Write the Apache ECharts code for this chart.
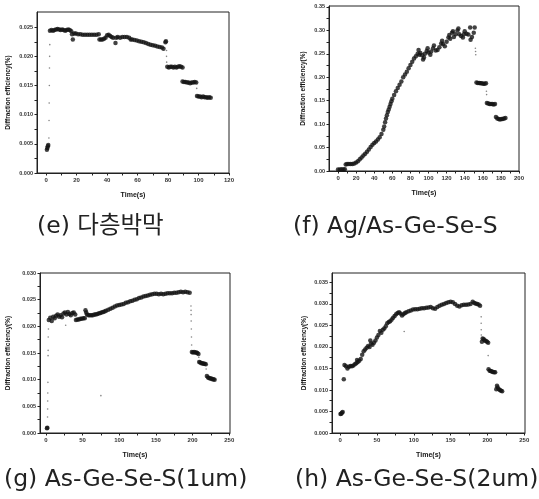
<!DOCTYPE html>
<html><head><meta charset="utf-8">
<script src="https://cdn.jsdelivr.net/npm/echarts@6/dist/echarts.min.js"></script>
<style>html,body{margin:0;padding:0;background:#fff}#c{width:539px;height:499px}</style>
</head><body><div id="c"></div>
<script>
// ---------- captions ----------
const captions = ['(e) 다층박막', '(f) Ag/As-Ge-Se-S', '(g) As-Ge-Se-S(1um)', '(h) As-Ge-Se-S(2um)'];
const xAxisName = 'Time(s)';
const yAxisName = 'Diffraction efficiency(%)';

// ---------- tick labels ----------
const eXTicks = [0, 20, 40, 60, 80, 100, 120];
const eYTicks = [0, 0.005, 0.010, 0.015, 0.020, 0.025];
const fXTicks = [0, 20, 40, 60, 80, 100, 120, 140, 160, 180, 200];
const fYTicks = [0, 0.05, 0.10, 0.15, 0.20, 0.25, 0.30, 0.35];
const gXTicks = [0, 50, 100, 150, 200, 250];
const gYTicks = [0, 0.005, 0.010, 0.015, 0.020, 0.025, 0.030];
const hXTicks = [0, 50, 100, 150, 200, 250];
const hYTicks = [0, 0.005, 0.010, 0.015, 0.020, 0.025, 0.030, 0.035];

// ---------- (e) multilayer: [time s, efficiency %] ----------
const eMain = [
 [0.5,0.0040],[0.8,0.0043],[1.1,0.0046],[1.4,0.0048],
 [2.5,0.0244],[3.5,0.0245],[4.5,0.0244],[5.5,0.0245],[6.5,0.0246],[7.5,0.0247],[8.5,0.0246],[9.5,0.0245],
 [10.5,0.0246],[11.5,0.0245],[12.5,0.0244],[13.5,0.0245],[14.5,0.0246],[15.5,0.0245],[16.5,0.0243],
 [17,0.0238],[17.5,0.0229],[18.5,0.0239],[19.5,0.0239],[21,0.0238],[22.5,0.0238],[24,0.0237],[25.5,0.0237],
 [27,0.0237],[28.5,0.0237],[30,0.0237],[31.5,0.0237],[33,0.0237],[34.5,0.0238],
 [35,0.0229],[36,0.0229],[37,0.0229],[38,0.0230],[39,0.0232],[40,0.0236],[41,0.0237],[42,0.0235],[43,0.0233],
 [44,0.0232],[45.5,0.0223],[46,0.0232],[47,0.0233],[48.5,0.0232],[50,0.0233],[51.5,0.0233],[53,0.0233],
 [54.5,0.0232],[55.5,0.0229],[56.5,0.0229],[58,0.0228],[59.5,0.0227],[61,0.0226],[62.5,0.0225],[64,0.0224],
 [65.5,0.0223],[67,0.0221],[68.5,0.0220],[70,0.0219],[71.5,0.0218],[73,0.0217],[74.5,0.0216],[76,0.0215],
 [77,0.0213],[78.3,0.0224],[78.6,0.0226],
 [79.5,0.0182],[80.5,0.0181],[81.5,0.0182],[82.5,0.0182],[83.5,0.0181],[84.5,0.0182],[85.5,0.0181],
 [86.5,0.0182],[87.5,0.0183],[88.5,0.0182],[89.5,0.0181],
 [89.5,0.0157],[90.5,0.0156],[91.5,0.0156],[92.5,0.0155],[93.5,0.0155],[94.5,0.0154],[95.5,0.0155],
 [96.5,0.0155],[97.5,0.0156],[98.5,0.0155],
 [99,0.0132],[100,0.0131],[101,0.0131],[102,0.0130],[103,0.0131],[104,0.0130],[105,0.0130],[106,0.0129],
 [107,0.0130],[108,0.0129]
];
const eStep = [
 [1.8,0.006],[1.9,0.009],[2.0,0.012],[2.1,0.015],[2.2,0.018],[2.3,0.020],[2.4,0.022],
 [79,0.021],[79,0.020],[79.1,0.019],[98.8,0.0145]
];

// ---------- (f) Ag/As-Ge-Se-S ----------
const fMain = [
 [0,0.003],[2,0.003],[4,0.004],[6,0.003],[7.5,0.004],
 [8.5,0.014],[10,0.015],[12,0.015],[14,0.015],[16,0.015],[18,0.016],[20,0.018],[22,0.021],[24,0.025],
 [26,0.029],[28,0.033],[30,0.037],[32,0.041],[34,0.046],[36,0.051],[38,0.056],[40,0.060],[42,0.063],
 [44,0.067],[46,0.072],[48,0.079],[50,0.088],[51,0.095],[52,0.104],[53,0.112],[54,0.119],[55,0.126],
 [56,0.131],[57,0.137],[58,0.143],[59,0.149],[60,0.154],[62,0.162],[64,0.170],[66,0.177],[68,0.184],
 [70,0.191],[72,0.200],[74,0.206],[76,0.212],[78,0.219],[80,0.226],[82,0.233],[84,0.240],[86,0.245],
 [88,0.250],[89,0.258],[90,0.248],[91,0.252],[93,0.247],[94,0.238],[95,0.242],[96,0.250],[98,0.256],
 [99,0.262],[100,0.253],[102,0.248],[103,0.255],[105,0.262],[106,0.268],[108,0.257],[110,0.258],
 [112,0.264],[114,0.272],[115,0.278],[116,0.271],[118,0.266],[120,0.276],[122,0.285],[123,0.290],
 [124,0.282],[126,0.295],[127,0.298],[128,0.286],[130,0.292],[132,0.300],[133,0.304],[134,0.292],
 [136,0.288],[138,0.285],[139,0.292],[140,0.298],[142,0.293],[144,0.291],[146,0.306],[146.5,0.280],
 [148,0.286],[150,0.295],[151,0.306],
 [153,0.189],[154.5,0.188],[156,0.188],[157.5,0.187],[159,0.187],[160.5,0.186],[162,0.186],[163.5,0.187],
 [164.5,0.145],[166,0.144],[167.5,0.143],[169,0.143],[170.5,0.143],[172,0.142],[173.5,0.143],
 [174.5,0.115],[176,0.112],[177.5,0.111],[179,0.110],[180.5,0.111],[182,0.111],[183.5,0.112],[185,0.113]
];
const fStep = [
 [151.8,0.262],[152,0.255],[152.2,0.248],[164,0.170],[164.2,0.163]
];

// ---------- (g) As-Ge-Se-S 1um ----------
const gMain = [
 [1.5,0.0009],[2,0.0010],
 [4,0.0212],[6,0.0216],[8,0.0210],[10,0.0218],[12,0.0215],[14,0.0220],[16,0.0222],[18,0.0218],[20,0.0221],
 [22,0.0217],[24,0.0224],[26,0.0226],[28,0.0222],[30,0.0227],[32,0.0223],[34,0.0221],[36,0.0225],[38,0.0226],
 [40,0.0222],[41,0.0212],[43,0.0213],[45,0.0213],[47,0.0214],[49,0.0214],[51,0.0215],[53,0.0215],[54,0.0230],
 [55,0.0226],[56,0.0222],[58,0.0221],[60,0.0221],[62,0.0221],[64,0.0221],[66,0.0222],[68,0.0222],[70,0.0223],
 [72,0.0224],[74,0.0225],[76,0.0226],[78,0.0227],[80,0.0228],[82,0.0229],[85,0.0231],[88,0.0233],[91,0.0235],
 [94,0.0237],[97,0.0239],[100,0.0240],[103,0.0241],[106,0.0242],[109,0.0244],[112,0.0245],[115,0.0247],
 [118,0.0248],[121,0.0250],[124,0.0251],[127,0.0253],[130,0.0254],[133,0.0256],[136,0.0257],[139,0.0258],
 [142,0.0259],[145,0.0260],[148,0.0261],[151,0.0261],[154,0.0260],[157,0.0261],[160,0.0260],[163,0.0261],
 [166,0.0262],[169,0.0262],[172,0.0262],[175,0.0263],[178,0.0263],[181,0.0264],[184,0.0265],[187,0.0264],
 [190,0.0265],[193,0.0264],[196,0.0263],
 [199,0.0152],[200.5,0.0151],[202,0.0152],[203.5,0.0151],[205,0.0151],[206.5,0.0150],[208,0.0148],
 [209,0.0133],[210.5,0.0132],[212,0.0131],[213.5,0.0131],[215,0.0130],[216.5,0.0130],[218,0.0129],
 [219.5,0.0107],[221,0.0104],[222.5,0.0103],[224,0.0102],[225.5,0.0102],[227,0.0101],[228.5,0.0101],[230,0.0100]
];
const gStep = [
 [2.3,0.003],[2.4,0.0045],[2.5,0.006],[2.6,0.0075],[2.8,0.0095],[3.0,0.0145],[3.1,0.0155],[3.2,0.018],[3.5,0.0195],
 [27,0.0202],[75,0.0070],
 [197.8,0.0238],[197.9,0.0230],[198,0.0222],[198.1,0.0210],[198.3,0.0195],[198.5,0.0180],[198.7,0.0165],
 [208.5,0.0142],[218.5,0.0120]
];

// ---------- (h) As-Ge-Se-S 2um ----------
const hMain = [
 [0.5,0.0044],[1.5,0.0045],[2.5,0.0047],[3.5,0.0049],[5,0.0125],
 [6,0.0158],[8,0.0155],[10,0.0150],[12,0.0154],[14,0.0156],[16,0.0155],[18,0.0157],[20,0.0160],[22,0.0162],
 [23,0.0170],[24,0.0165],[26,0.0168],[28,0.0172],[30,0.0182],[32,0.0190],[34,0.0194],[36,0.0198],[38,0.0202],
 [40,0.0200],[41,0.0215],[42,0.0208],[44,0.0205],[46,0.0210],[48,0.0215],[50,0.0222],[52,0.0228],[54,0.0237],
 [56,0.0233],[58,0.0240],[60,0.0243],[62,0.0248],[64,0.0255],[66,0.0258],[68,0.0260],[70,0.0264],[72,0.0268],
 [74,0.0272],[76,0.0276],[78,0.0279],[80,0.0281],[82,0.0278],[84,0.0273],[86,0.0276],[88,0.0279],[90,0.0281],
 [93,0.0283],[96,0.0285],[99,0.0287],[102,0.0288],[105,0.0288],[108,0.0289],[111,0.0290],[114,0.0290],
 [117,0.0291],[120,0.0292],[123,0.0293],[126,0.0290],[129,0.0289],[132,0.0293],[135,0.0296],[138,0.0298],
 [141,0.0300],[144,0.0302],[147,0.0304],[150,0.0305],[153,0.0304],[156,0.0300],[159,0.0296],[162,0.0294],
 [165,0.0297],[168,0.0298],[171,0.0298],[174,0.0299],[177,0.0300],[180,0.0305],[182,0.0302],[184,0.0301],
 [186,0.0300],[188,0.0299],[190,0.0296],
 [192.5,0.0212],[193.5,0.0220],[195,0.0218],[196.5,0.0215],[198,0.0214],[199.5,0.0212],[201,0.0210],
 [201.5,0.0148],[203,0.0145],[204.5,0.0144],[206,0.0143],[207.5,0.0142],[209,0.0141],[210.5,0.0141],
 [212,0.0102],[213,0.0110],[214,0.0106],[215.5,0.0102],[217,0.0100],[218.5,0.0098],[220,0.0097]
];
const hStep = [
 [87,0.0236],[191.5,0.0270],[191.5,0.0255],[191.6,0.0240],[191.7,0.0228],[201,0.0180]
];

// ---------- layout ----------
const panels = [
  {grid:{left:37,top:12,width:192,height:161}, xr:[-6,120], xt:eXTicks, yr:[0,0.0276], yt:eYTicks, dec:3, main:eMain, step:eStep, yGap:25},
  {grid:{left:329,top:6,width:190,height:165}, xr:[-10,200], xt:fXTicks, yr:[0,0.352], yt:fYTicks, dec:2, main:fMain, step:fStep, yGap:22},
  {grid:{left:40,top:273,width:190,height:160}, xr:[-8,251], xt:gXTicks, yr:[0,0.030], yt:gYTicks, dec:3, main:gMain, step:gStep, yGap:28},
  {grid:{left:332,top:273,width:193,height:160}, xr:[-11,251], xt:hXTicks, yr:[0,0.0372], yt:hYTicks, dec:3, main:hMain, step:hStep, yGap:24}
];

function halfTicks(t){ const out=[]; for(let i=0;i<t.length;i++){ out.push(t[i]); if(i<t.length-1) out.push((t[i]+t[i+1])/2);} return out; }

const ink = '#141414';
const grids=[], xAxes=[], yAxes=[], series=[];
panels.forEach((p,i)=>{
  grids.push(Object.assign({show:true, borderColor:'#222', borderWidth:1, containLabel:false}, p.grid));
  xAxes.push({type:'value', gridIndex:i, min:p.xr[0], max:p.xr[1],
    name:xAxisName, nameLocation:'middle', nameGap:19,
    nameTextStyle:{fontFamily:'Liberation Sans', fontWeight:'bold', fontSize:7, color:ink},
    axisLine:{show:true, onZero:false, lineStyle:{color:'#222', width:1}},
    axisTick:{show:true, length:2.5, customValues:halfTicks(p.xt), lineStyle:{color:'#222'}},
    axisLabel:{customValues:p.xt, fontFamily:'Liberation Sans', fontWeight:'bold', fontSize:6, color:'#333', margin:4},
    splitLine:{show:false}});
  yAxes.push({type:'value', gridIndex:i, min:p.yr[0], max:p.yr[1],
    name:yAxisName, nameLocation:'middle', nameGap:p.yGap, nameRotate:90,
    nameTextStyle:{fontFamily:'Liberation Sans', fontWeight:'bold', fontSize:6.5, color:ink},
    axisLine:{show:true, onZero:false, lineStyle:{color:'#222', width:1}},
    axisTick:{show:true, length:2.5, customValues:halfTicks(p.yt), lineStyle:{color:'#222'}},
    axisLabel:{customValues:p.yt, fontFamily:'Liberation Sans', fontWeight:'bold', fontSize:5.5, color:'#333', margin:4,
      formatter:(v)=>v.toFixed(p.dec)},
    splitLine:{show:false}});
  series.push({type:'scatter', xAxisIndex:i, yAxisIndex:i, data:p.main, symbol:'circle', symbolSize:4.5,
    itemStyle:{color:ink}, silent:true});
  series.push({type:'scatter', xAxisIndex:i, yAxisIndex:i, data:p.step, symbol:'circle', symbolSize:1.6,
    itemStyle:{color:'#666'}, silent:true});
});

const capPos = [[37,229],[293,229],[4,482],[295,482]];
const graphic = captions.map((c,i)=>({type:'text', left:capPos[i][0], top:capPos[i][1]-14,
  style:{text:c, fontFamily:'DejaVu Sans, Noto Sans CJK KR', fontSize:23.5, fill:'#222'}}));

const chart = echarts.init(document.getElementById('c'), null, {renderer:'canvas'});
chart.setOption({animation:false, backgroundColor:'#fff', grid:grids, xAxis:xAxes, yAxis:yAxes, series:series, graphic:graphic});
</script></body></html>
